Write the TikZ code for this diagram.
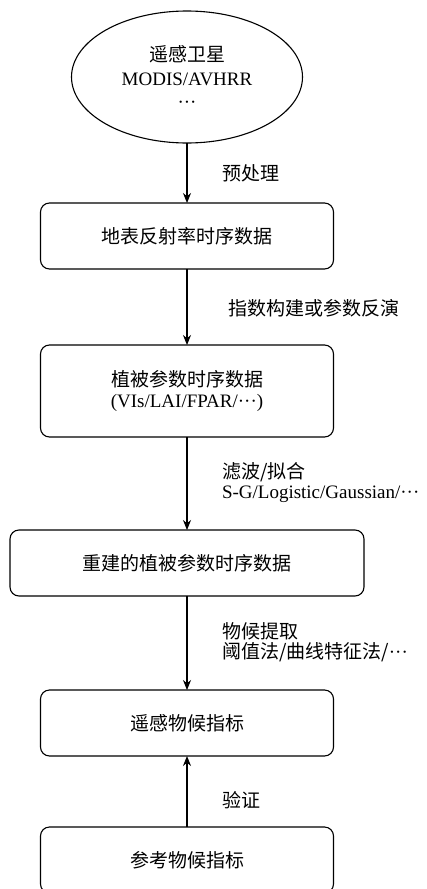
\documentclass[tikz,border=0pt]{standalone}
\usepackage{fontspec}
\setmainfont{Liberation Serif}
\newfontfamily\cjk{Noto Sans CJK SC}
\usetikzlibrary{shapes.geometric,arrows.meta}
\begin{document}
\begin{tikzpicture}[x=1pt,y=-1pt,
  line width=1.1pt,
  every node/.style={inner sep=0pt,outer sep=0pt},
  txt/.style={font=\fontsize{19}{22}\selectfont, align=center},
  lbl/.style={font=\fontsize{19}{20}\selectfont, align=left, anchor=west},
  box/.style={draw, rounded corners=9pt, minimum width=293pt, minimum height=66pt, txt},
  arr/.style={-{Stealth[length=10pt,width=8pt]}}
]
\useasboundingbox (0,0) rectangle (427,889);
\node[draw, ellipse, minimum width=231pt, minimum height=132pt, txt, font=\fontsize{19}{23.5}\selectfont] (sat) at (187,77)
  {{\cjk 遥感卫星}\\MODIS/AVHRR\\···};
\node[box] (b1) at (187,236) {\cjk 地表反射率时序数据};
\node[box, minimum height=92pt, font=\fontsize{19}{21}\selectfont] (b2) at (187,391) {{\cjk 植被参数时序数据}\\(VIs/LAI/FPAR/···)};
\node[box, minimum width=354pt] (b3) at (187,563) {\cjk 重建的植被参数时序数据};
\node[box] (b4) at (187,723) {\cjk 遥感物候指标};
\node[box] (b5) at (187,860) {\cjk 参考物候指标};
\draw[arr] (sat.south) -- (b1.north);
\draw[arr] (b1.south) -- (b2.north);
\draw[arr] (b2.south) -- (b3.north);
\draw[arr] (b3.south) -- (b4.north);
\draw[arr] (b5.north) -- (b4.south);
\node[lbl] (l1) at (222,173) {\cjk 预处理};
\node[lbl] (l2) at (228,308) {\cjk 指数构建或参数反演};
\node[lbl] (l3) at (222,483) {{\cjk 滤波/拟合}\\S-G/Logistic/Gaussian/···};
\node[lbl] (l4) at (222,642) {{\cjk 物候提取}\\{\cjk 阈值法/曲线特征法/}···};
\node[lbl] (l5) at (222,800) {\cjk 验证};
\end{tikzpicture}
\end{document}
